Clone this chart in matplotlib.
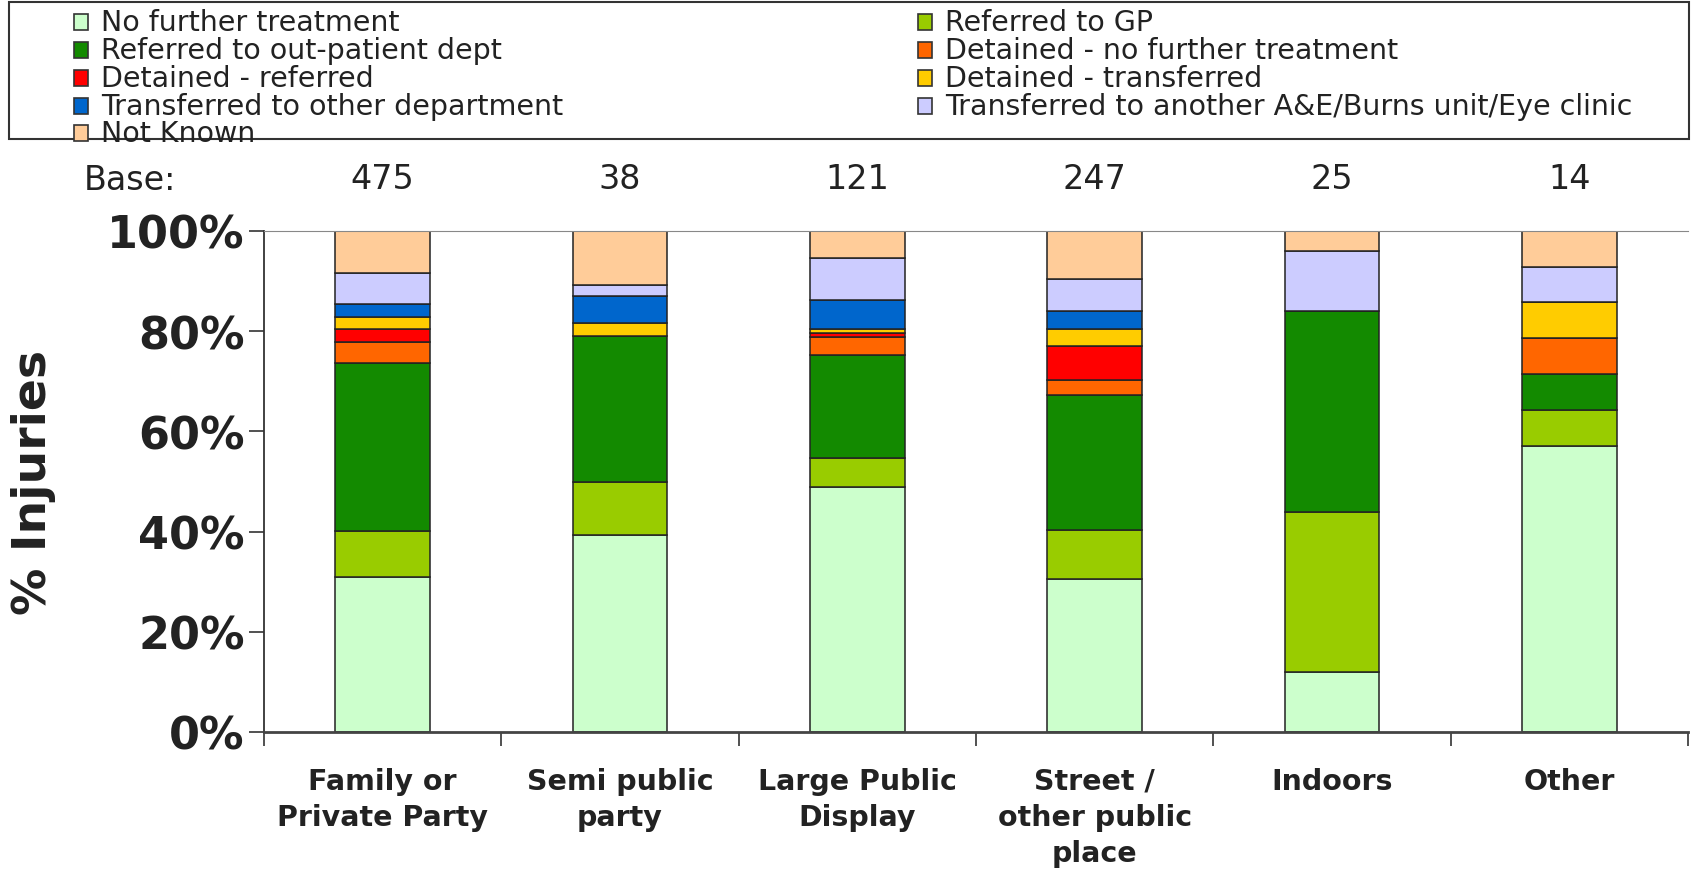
import numpy as np
import matplotlib.pyplot as plt
from matplotlib.patches import Rectangle

# data (percent of injuries)
categories = ['Family or\nPrivate Party', 'Semi public\nparty', 'Large Public\nDisplay',
              'Street /\nother public\nplace', 'Indoors', 'Other']
bases = [475, 38, 121, 247, 25, 14]

series = ['No further treatment', 'Referred to GP', 'Referred to out-patient dept',
          'Detained - no further treatment', 'Detained - referred', 'Detained - transferred',
          'Transferred to other department', 'Transferred to another A&E/Burns unit/Eye clinic',
          'Not Known']
colors = ['#CCFFCC', '#99CC00', '#138A00', '#FF6600', '#FF0000', '#FFCC00',
          '#0066CC', '#CCCCFF', '#FFCC99']

no_further = [30.9, 39.4, 48.9, 30.5, 12.0, 57.1]
ref_gp = [9.2, 10.6, 5.8, 9.9, 32.0, 7.1]
ref_opd = [33.5, 29.0, 20.6, 26.8, 40.0, 7.2]
det_noft = [4.2, 0.0, 3.6, 3.0, 0.0, 7.2]
det_ref = [2.7, 0.0, 0.8, 6.9, 0.0, 0.0]
det_trans = [2.3, 2.6, 0.8, 3.4, 0.0, 7.2]
trans_other = [2.7, 5.4, 5.7, 3.5, 0.0, 0.0]
trans_another = [6.1, 2.3, 8.4, 6.5, 12.1, 7.1]
not_known = [8.4, 10.7, 5.4, 9.5, 3.9, 7.3]

values = [no_further, ref_gp, ref_opd, det_noft, det_ref, det_trans,
          trans_other, trans_another, not_known]

W, H = 1692, 870
fig = plt.figure(figsize=(W / 100, H / 100), dpi=100)
# axes box in pixels: left 264, right 1688, top 232, bottom 733
ax = fig.add_axes([264 / W, (H - 733) / H, (1688 - 264) / W, (733 - 232) / H])

x = np.arange(len(categories))
bottom = np.zeros(len(categories))
for vals, col in zip(values, colors):
    vals = np.array(vals)
    ax.bar(x, vals, 0.4, bottom=bottom, color=col, edgecolor='#222222', linewidth=1.1)
    bottom += vals

ax.set_xlim(-0.5, len(categories) - 0.5)
ax.set_ylim(0, 100)
ax.set_yticks(range(0, 101, 20))
ax.set_yticklabels(['%d%%' % v for v in range(0, 101, 20)], fontsize=32, fontweight='bold',
                   color='#222222')
ax.tick_params(axis='y', length=11, width=1.2, color='#333333', pad=3)

ax.set_xticks(x)
ax.set_xticklabels(categories, fontsize=20.5, fontweight='bold', color='#222222',
                   linespacing=1.38, va='top')
ax.tick_params(axis='x', which='major', length=0, pad=25)
ax.set_xticks(np.arange(-0.5, len(categories)), minor=True)
ax.tick_params(axis='x', which='minor', length=10, width=1.2, color='#333333')

ax.spines['right'].set_visible(False)
ax.spines['top'].set_color('#888888')
ax.spines['left'].set_linewidth(1.3)
ax.spines['bottom'].set_linewidth(2)
ax.spines['left'].set_color('#333333')
ax.spines['bottom'].set_color('#444444')

ax.set_ylabel('% Injuries', fontsize=34, fontweight='bold', color='#222222')
ax.yaxis.set_label_coords(-0.146, 0.5)

# base row
for xi, b in zip(x, bases):
    ax.text(xi, 1.104, str(b), transform=ax.get_xaxis_transform(), ha='center',
            va='center', fontsize=24, color='#222222')
fig.text(130 / W, 1 - 180 / H, 'Base:', ha='center', va='center', fontsize=24,
         color='#222222')

# legend box drawn by hand
fig.patches.append(Rectangle((9 / W, 1 - 140 / H), (1689 - 9) / W, 137 / H,
                             transform=fig.transFigure, facecolor='white',
                             edgecolor='#333333', linewidth=1.5))
row_y = [23, 51, 79, 107, 134]
col_x = [74, 918]
for i, (name, col) in enumerate(zip(series, colors)):
    c, r = i % 2, i // 2
    mx, my = col_x[c], row_y[r]
    fig.patches.append(Rectangle((mx / W, 1 - (my + 8) / H), 14 / W, 16 / H,
                                 transform=fig.transFigure, facecolor=col,
                                 edgecolor='#333333', linewidth=1.2))
    fig.text((mx + 27) / W, 1 - my / H, name, ha='left', va='center', fontsize=20.5,
             color='#222222')

fig.savefig('out.png', dpi=100)
